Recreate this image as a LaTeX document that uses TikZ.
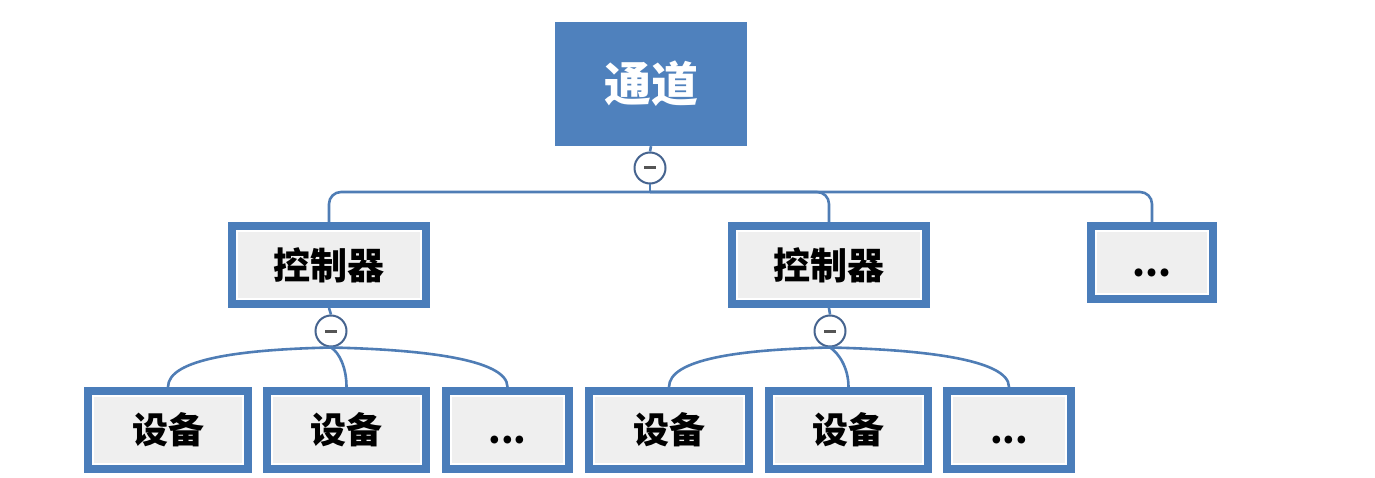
\documentclass[tikz,border=0pt]{standalone}
\usepackage{fontspec}
\setmainfont{Noto Sans CJK SC}
\definecolor{topblue}{HTML}{4F81BD}
\definecolor{boxblue}{HTML}{4A7DBA}
\definecolor{boxgray}{HTML}{EFEFEF}
\definecolor{linkblue}{HTML}{4F7DB5}
\definecolor{circline}{HTML}{46648F}
\definecolor{minusgray}{HTML}{555555}
\tikzset{
  topbox/.style={fill=topblue, draw=none, minimum width=192pt, minimum height=124pt, inner sep=0pt,
    text=white, font=\fontsize{47}{50}\selectfont\bfseries},
  boxnode/.style={fill=boxgray, draw=boxblue, line width=8pt, minimum height=78pt, inner sep=0pt,
    font=\fontsize{37}{40}\selectfont\bfseries},
  leafnode/.style={boxnode, font=\fontsize{36}{40}\selectfont\bfseries},
  innerline/.style={draw=white, line width=1.8pt},
  togglec/.style={circle, draw=circline, line width=2pt, fill=white, minimum size=31pt, inner sep=0pt},
  minusbar/.style={draw=minusgray, line width=3pt},
  link/.style={draw=linkblue, line width=2.6pt}
}
\begin{document}
\begin{tikzpicture}[x=1pt,y=-1pt]
\useasboundingbox (0,0) rectangle (1375,478);
% nodes
\node[topbox] (top) at (651,84) {通道};
\node[boxnode, minimum width=194pt] (c1) at (329,265) {控制器};
\node[boxnode, minimum width=194pt] (c2) at (829,265) {控制器};
\node[boxnode, minimum width=122pt, minimum height=73pt] (c3) at (1152,262.5) {\vphantom{设}...};
\node[leafnode, minimum width=160pt] (d1) at (168,430) {设备};
\node[leafnode, minimum width=159pt] (d2) at (346.5,430) {设备};
\node[leafnode, minimum width=123pt] (d3) at (507.5,430) {\vphantom{设}...};
\node[leafnode, minimum width=160pt] (d4) at (669,430) {设备};
\node[leafnode, minimum width=159pt] (d5) at (848.5,430) {设备};
\node[leafnode, minimum width=124pt] (d6) at (1009,430) {\vphantom{设}...};
% inner white lines
\foreach \n in {c1,c2,c3,d1,d2,d3,d4,d5,d6}{
  \draw[innerline] ([shift={(8.9,8.9)}]\n.north west) rectangle ([shift={(-8.9,-8.9)}]\n.south east);
}
% toggles
\node[togglec] (m0) at (650,168) {};
\node[togglec] (m1) at (331,331) {};
\node[togglec] (m2) at (830,331) {};
\foreach \m in {m0,m1,m2}{
  \draw[minusbar] ([xshift=-6pt]\m.center) -- ([xshift=6pt]\m.center);
}
% top connectors
\coordinate (j0) at (650,192);
\draw[link] (top.south) -- (m0.north);
\draw[link] (m0.south) -- (j0);
\draw[link, rounded corners=12pt] (j0) -| (c1.north);
\draw[link, rounded corners=12pt] (j0) -| (c2.north);
\draw[link, rounded corners=12pt] (j0) -| (c3.north);
\draw[link] (c1.south) -- (m1.north);
\draw[link] (c2.south) -- (m2.north);
% leaf connectors
\draw[link] (m1.south) .. controls +(-90,2) and +(0,-28) .. (d1.north);
\draw[link] (m1.south) .. controls +(8,5) and +(0,-20) .. (d2.north);
\draw[link] (m1.south) .. controls +(90,2) and +(0,-28) .. (d3.north);
\draw[link] (m2.south) .. controls +(-90,2) and +(0,-28) .. (d4.north);
\draw[link] (m2.south) .. controls +(8,5) and +(0,-20) .. (d5.north);
\draw[link] (m2.south) .. controls +(90,2) and +(0,-28) .. (d6.north);
\end{tikzpicture}
\end{document}
